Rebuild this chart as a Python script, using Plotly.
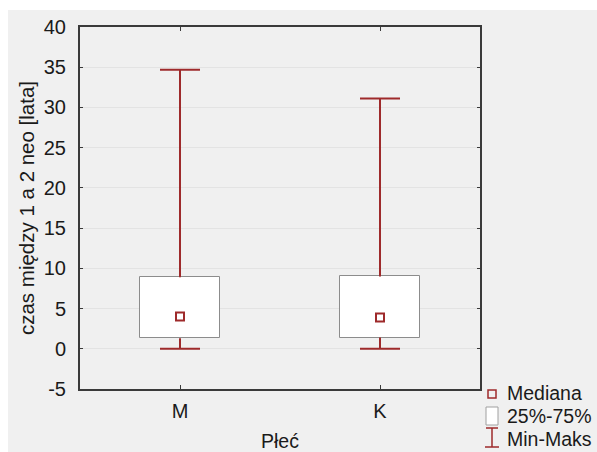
import plotly.graph_objects as go

# Summary statistics of the time between 1st and 2nd neo, by sex
categories = ["M", "K"]
minimum = [0.0, 0.0]
q1 = [1.3, 1.4]
median = [4.0, 3.9]
q3 = [8.9, 9.0]
maximum = [34.7, 31.1]

y_ticks = [-5, 0, 5, 10, 15, 20, 25, 30, 35, 40]
y_tick_labels = ["-5", "0", "5", "10", "15", "20", "25", "30", "35", "40"]

legend_labels = ["Mediana", "25%-75%", "Min-Maks"]

W, H = 597, 452
L, R, T, B = 80, 117, 27, 63
PW, PH = W - L - R, H - T - B

RED = "#9e2a2b"
BOXLINE = "#8c8c8c"
PANEL = "#f0f0f0"
FONT = "Liberation Sans, Arial, sans-serif"
TXT = "#1a1a1a"

def px_x(p):
    return (p - L) / PW

def px_y(p):
    return (H - B - p) / PH

xs = list(range(len(categories)))
cap = 0.1

# whisker segments (max above the box, min below it) with caps
wx, wy = [], []
for i, x in enumerate(xs):
    wx += [x, x, None, x - cap, x + cap, None, x, x, None, x - cap, x + cap, None]
    wy += [q3[i], maximum[i], None, maximum[i], maximum[i], None,
           q1[i], minimum[i], None, minimum[i], minimum[i], None]

fig = go.Figure()
fig.add_trace(go.Bar(
    x=xs, y=[b - a for a, b in zip(q1, q3)], base=q1, width=0.4,
    marker=dict(color="white", line=dict(color=BOXLINE, width=1)),
    showlegend=False, name=legend_labels[1],
))
fig.add_trace(go.Scatter(
    x=wx, y=wy, mode="lines", line=dict(color=RED, width=2),
    showlegend=False, name=legend_labels[2], hoverinfo="skip",
))
fig.add_trace(go.Scatter(
    x=xs, y=median, mode="markers",
    marker=dict(symbol="square-open", size=8, color=RED, line=dict(width=2, color=RED)),
    showlegend=False, name=legend_labels[0],
))

shapes = [
    # grey panel behind the chart
    dict(type="rect", xref="paper", yref="paper", layer="below",
         x0=px_x(8), x1=px_x(W + 2), y0=px_y(H + 2), y1=px_y(10),
         fillcolor=PANEL, line=dict(width=0)),
    # legend icons
    dict(type="rect", xref="paper", yref="paper",
         x0=px_x(488), x1=px_x(496), y0=px_y(398), y1=px_y(390),
         fillcolor="rgba(0,0,0,0)", line=dict(color=RED, width=1.5)),
    dict(type="rect", xref="paper", yref="paper",
         x0=px_x(486), x1=px_x(498), y0=px_y(425), y1=px_y(407),
         fillcolor="white", line=dict(color="#a0a0a0", width=1)),
    dict(type="line", xref="paper", yref="paper",
         x0=px_x(492), x1=px_x(492), y0=px_y(447), y1=px_y(428),
         line=dict(color=RED, width=1.5)),
    dict(type="line", xref="paper", yref="paper",
         x0=px_x(486), x1=px_x(498), y0=px_y(428), y1=px_y(428),
         line=dict(color=RED, width=1.5)),
    dict(type="line", xref="paper", yref="paper",
         x0=px_x(485), x1=px_x(499), y0=px_y(447), y1=px_y(447),
         line=dict(color=RED, width=1.5)),
]

annotations = []
for lbl, yc in zip(legend_labels, [393, 416, 439]):
    annotations.append(dict(
        text=lbl, xref="paper", yref="paper", x=px_x(505), y=px_y(yc),
        xanchor="left", yanchor="middle", showarrow=False,
        font=dict(family=FONT, size=19.5, color=TXT),
    ))

fig.update_layout(
    width=W, height=H,
    margin=dict(l=L, r=R, t=T, b=B, autoexpand=False),
    paper_bgcolor="white", plot_bgcolor="white",
    font=dict(family=FONT, size=19, color=TXT),
    shapes=shapes, annotations=annotations,
    showlegend=False, bargap=0,
)
fig.update_xaxes(
    range=[-0.5, 1.5], tickvals=xs, ticktext=categories,
    showgrid=False, zeroline=False, automargin=False,
    showline=True, linecolor="#3a3a3a", linewidth=2, mirror="ticks",
    ticks="inside", ticklen=4, tickcolor="#3a3a3a", tickwidth=1,
    ticklabelstandoff=3, tickfont=dict(size=20),
    title=dict(text="Płeć", font=dict(size=19.5), standoff=14),
)
fig.update_yaxes(
    range=[-5, 40], tickvals=y_ticks, ticktext=y_tick_labels,
    showgrid=True, gridcolor="#e3e3e3", gridwidth=1, zeroline=False, automargin=False,
    showline=True, linecolor="#3a3a3a", linewidth=2, mirror="ticks",
    ticks="inside", ticklen=3, tickcolor="#3a3a3a", tickwidth=1,
    ticklabelstandoff=8, tickfont=dict(size=20),
    title=dict(text="czas między 1 a 2 neo [lata]", font=dict(size=20.5), standoff=4),
)

fig.write_html("out.html")
